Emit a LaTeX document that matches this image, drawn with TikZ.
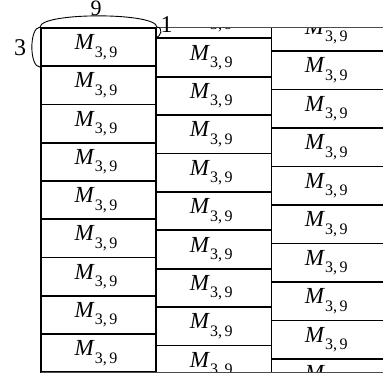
\documentclass[tikz,border=0pt]{standalone}
\usepackage{fontspec}
\setmainfont{Liberation Serif}
\newcommand{\mlab}{\fontsize{23}{23}\selectfont\textit{M}\raisebox{-7.5pt}{\fontsize{16}{16}\selectfont 3,\,9}\kern5pt}
\begin{document}
\begin{tikzpicture}[x=1pt,y=-1pt,
  cella/.style={draw,line width=1.8pt,minimum width=115pt,minimum height=38.25pt,inner sep=0pt},
  cellb/.style={draw,line width=1.8pt,minimum width=115.5pt,minimum height=38.4pt,inner sep=0pt},
  cellc/.style={draw,line width=1.8pt,minimum width=114.5pt,minimum height=38.5pt,inner sep=0pt},
  num/.style={font=\fontsize{24}{24}\selectfont,inner sep=0pt,anchor=base},
  brace/.style={line width=0.9pt},
  frame/.style={line width=0.8pt,black!70}]
\useasboundingbox (0,0) rectangle (383,380);
\begin{scope}
\clip (36,27.5) rectangle (390,372.5);
\foreach \i in {1,...,9}
  \node[cella] (a\i) at (98.5,{28+38.25*(\i-0.5)}) {\mlab};
\foreach \i in {0,...,9}
  \node[cellb] (b\i) at (213.75,{38.3+38.4*(\i-0.5)}) {\mlab};
\foreach \i in {0,...,9}
  \node[cellc] (c\i) at (328.75,{51+38.5*(\i-0.5)}) {\mlab};
\end{scope}
\coordinate (tl) at (156,27.5);
\coordinate (tr) at (383,27.5);
\coordinate (bl) at (41,372);
\coordinate (br) at (383,372);
\draw[frame] (tl) -- (tr);
\draw[frame] (bl) -- (br);
% annotations
\draw[brace] (a1.north west) .. controls ([yshift=15pt]a1.north west) and ([yshift=15pt]a1.north east) .. (a1.north east);
\draw[brace] (a1.north west) .. controls ([xshift=-11pt]a1.north west) and ([xshift=-11pt]a1.south west) .. (a1.south west);
\draw[brace] (a1.north east) .. controls ([xshift=6.5pt]a1.north east) and ([xshift=6.5pt]b1.north west) .. (b1.north west);
\node[num,font=\fontsize{22}{22}\selectfont] (n9) at (96,15.5) {9};
\node[num] (n3) at (20,55) {3};
\node[num] (n1) at (166.5,32) {1};
\end{tikzpicture}
\end{document}
